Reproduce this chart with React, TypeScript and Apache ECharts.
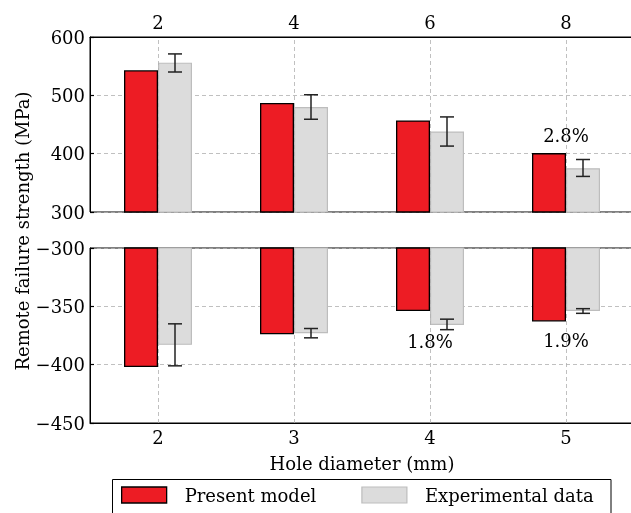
import React, { useEffect, useRef } from 'react';
import * as echarts from 'echarts';

const topCategories = ['2', '4', '6', '8'];
const bottomCategories = ['2', '3', '4', '5'];
const seriesNames = ['Present model', 'Experimental data'];

const topModel = [543, 487, 457, 401];
const topExperiment = [556, 480, 438, 375];
const topErrLow = [540, 459, 413, 361];
const topErrHigh = [571, 501, 463, 390];

const bottomModel = [-402, -374, -354, -363];
const bottomExperiment = [-383, -373, -366, -354];
const bottomErrLow = [-401, -377, -370, -356];
const bottomErrHigh = [-365, -369, -361, -352];

const topNoteCats = [3];
const topNoteValues = [432];
const topNoteTexts = ['2.8%'];
const bottomNoteCats = [2, 3];
const bottomNoteValues = [-380.5, -379];
const bottomNoteTexts = ['1.8%', '1.9%'];

const FONT = 'DejaVu Serif';
const FS = 18;
const RED = '#ED1C24';
const GRAY = '#DCDCDC';
const GRID_LINE = { type: [4, 3] as any, color: '#b0b0b0', width: 0.8 };

function minusFmt(v: number) {
  return String(v).replace('-', '\u2212');
}

function errorRender(params: any, api: any) {
  const idx = api.value(0);
  const lo = api.coord([idx, api.value(1)]);
  const hi = api.coord([idx, api.value(2)]);
  const band = api.size([1, 0])[0];
  const x = lo[0] + band * 0.125;
  const cap = 7;
  const style = { stroke: '#222', lineWidth: 1.5 };
  return {
    type: 'group',
    children: [
      { type: 'line', shape: { x1: x, y1: lo[1], x2: x, y2: hi[1] }, style },
      { type: 'line', shape: { x1: x - cap, y1: lo[1], x2: x + cap, y2: lo[1] }, style },
      { type: 'line', shape: { x1: x - cap, y1: hi[1], x2: x + cap, y2: hi[1] }, style },
    ],
  };
}

export default function App() {
  const ref = useRef<HTMLDivElement>(null);
  useEffect(() => {
    if (!ref.current) return;
    const chart = echarts.init(ref.current, null, { renderer: 'svg' });
    const axisLabel = { color: '#000', fontFamily: FONT, fontSize: FS };
    const redStyle = { color: RED, borderColor: '#000', borderWidth: 1.3 };
    const grayStyle = { color: GRAY, borderColor: '#bdbdbd', borderWidth: 1.2 };
    const noteLabel = {
      show: true, position: 'inside', formatter: '{b}', color: '#000',
      fontFamily: FONT, fontSize: FS, textBorderWidth: 0, textBorderColor: 'transparent', opacity: 1,
    };
    const vLines = (cats: string[]) => ({
      silent: true,
      symbol: 'none',
      label: { show: false },
      lineStyle: GRID_LINE,
      data: cats.map((c) => ({ xAxis: c })),
    });
    const option: any = {
      animation: false,
      textStyle: { fontFamily: FONT },
      grid: [
        { left: 90, right: 1, top: 37, height: 175, show: true, borderColor: '#000', borderWidth: 1, backgroundColor: 'transparent' },
        { left: 90, right: 1, top: 248, height: 175, show: true, borderColor: '#000', borderWidth: 1, backgroundColor: 'transparent' },
      ],
      xAxis: [
        {
          type: 'category', gridIndex: 0, position: 'top', data: topCategories,
          axisLine: { lineStyle: { color: '#000' } },
          axisTick: { alignWithLabel: true, inside: true, length: 4, lineStyle: { color: '#000', width: 1.2 } },
          axisLabel: { ...axisLabel, margin: 6 },
          splitLine: { show: false },
        },
        {
          type: 'category', gridIndex: 1, position: 'bottom', data: bottomCategories,
          axisLine: { lineStyle: { color: '#000' } },
          axisTick: { alignWithLabel: true, inside: true, length: 4, lineStyle: { color: '#000', width: 1.2 } },
          axisLabel: { ...axisLabel, margin: 5 },
          splitLine: { show: false },
        },
      ],
      yAxis: [
        {
          type: 'value', gridIndex: 0, min: 300, max: 600, interval: 100,
          axisLine: { show: true, lineStyle: { color: '#000' } },
          axisTick: { show: true, inside: true, length: 4, lineStyle: { color: '#000', width: 1.2 } },
          axisLabel: { ...axisLabel, margin: 5, formatter: minusFmt },
          splitLine: { show: true, lineStyle: GRID_LINE },
        },
        {
          type: 'value', gridIndex: 1, min: -450, max: -300, interval: 50,
          axisLine: { show: true, lineStyle: { color: '#000' } },
          axisTick: { show: true, inside: true, length: 4, lineStyle: { color: '#000', width: 1.2 } },
          axisLabel: { ...axisLabel, margin: 5, formatter: minusFmt },
          splitLine: { show: true, lineStyle: GRID_LINE },
        },
      ],
      legend: {
        left: 121, top: 486, padding: 0, itemGap: 45, itemWidth: 45, itemHeight: 16,
        icon: 'rect',
        textStyle: { color: '#000', fontFamily: FONT, fontSize: FS, padding: [0, 0, 0, 13] },
        data: [
          { name: seriesNames[0], itemStyle: redStyle },
          { name: seriesNames[1], itemStyle: grayStyle },
        ],
      },
      graphic: [
        {
          type: 'rect', z: 0, shape: { x: 112.5, y: 479.5, width: 498.5, height: 40 },
          style: { fill: '#fff', stroke: '#000', lineWidth: 1 },
        },
        {
          type: 'text', x: 22, y: 231, rotation: Math.PI / 2,
          style: { text: 'Remote failure strength (MPa)', fontFamily: FONT, fontSize: FS, fill: '#000', align: 'center', verticalAlign: 'middle' },
        },
        {
          type: 'text', x: 362, y: 463,
          style: { text: 'Hole diameter (mm)', fontFamily: FONT, fontSize: FS, fill: '#000', align: 'center', verticalAlign: 'middle' },
        },
      ],
      series: [
        { name: seriesNames[0], type: 'bar', xAxisIndex: 0, yAxisIndex: 0, data: topModel, barWidth: 34, barGap: '0%', itemStyle: redStyle, z: 3, clip: true },
        { name: seriesNames[1], type: 'bar', xAxisIndex: 0, yAxisIndex: 0, data: topExperiment, barWidth: 34, barGap: '0%', itemStyle: grayStyle, z: 3, clip: true },
        { name: seriesNames[0], type: 'bar', xAxisIndex: 1, yAxisIndex: 1, data: bottomModel, barWidth: 34, barGap: '0%', itemStyle: redStyle, z: 3, clip: true },
        { name: seriesNames[1], type: 'bar', xAxisIndex: 1, yAxisIndex: 1, data: bottomExperiment, barWidth: 34, barGap: '0%', itemStyle: grayStyle, z: 3, clip: true },
        {
          type: 'custom', xAxisIndex: 0, yAxisIndex: 0, z: 4, renderItem: errorRender,
          encode: { x: 0, y: [1, 2] },
          data: topCategories.map((_, i) => [i, topErrLow[i], topErrHigh[i]]),
        },
        {
          type: 'custom', xAxisIndex: 1, yAxisIndex: 1, z: 4, renderItem: errorRender,
          encode: { x: 0, y: [1, 2] },
          data: bottomCategories.map((_, i) => [i, bottomErrLow[i], bottomErrHigh[i]]),
        },
        {
          type: 'scatter', xAxisIndex: 0, yAxisIndex: 0, z: 2, symbolSize: 1, silent: true,
          itemStyle: { color: '#000', opacity: 0 },
          label: noteLabel,
          data: topNoteCats.map((c, i) => ({ name: topNoteTexts[i], value: [c, topNoteValues[i]] })),
          markLine: vLines(topCategories),
        },
        {
          type: 'scatter', xAxisIndex: 1, yAxisIndex: 1, z: 2, symbolSize: 1, silent: true,
          itemStyle: { color: '#000', opacity: 0 },
          label: noteLabel,
          data: bottomNoteCats.map((c, i) => ({ name: bottomNoteTexts[i], value: [c, bottomNoteValues[i]] })),
          markLine: vLines(bottomCategories),
        },
      ],
    };
    chart.setOption(option);
    return () => chart.dispose();
  }, []);
  return <div ref={ref} style={{ position: 'fixed', left: 0, top: 0, width: 635, height: 513 }} />;
}
